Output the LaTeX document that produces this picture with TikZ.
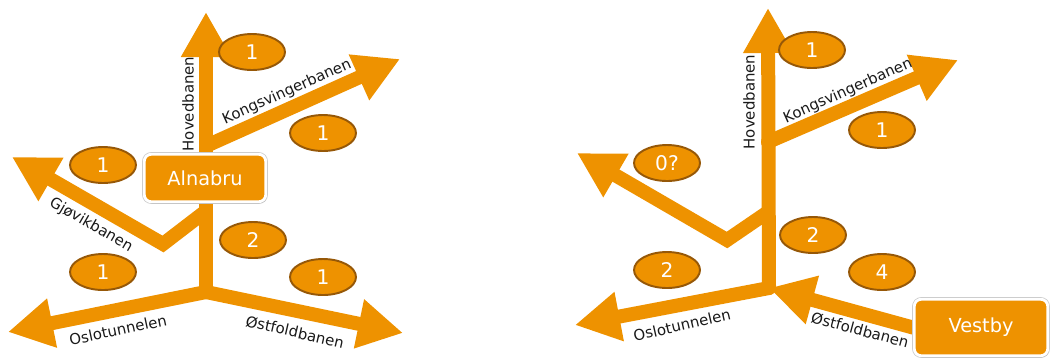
\documentclass[tikz,border=0pt]{standalone}
\usepackage{fontspec}
\setmainfont{DejaVu Sans}
\usepackage{tikz}
\usetikzlibrary{arrows.meta, shapes.geometric, shadows, backgrounds}
\tikzset{
    trackarrow/.style={draw=#1, line width=0.28cm, line cap=round, -{Triangle[length=0.9cm, width=0.94cm]}},
    countoval/.style={ellipse, draw=ovalbrown, fill=#1, line width=1.1pt, minimum width=1.32cm, minimum height=0.72cm, inner sep=0pt, text=white, font=\fontsize{11.5}{13}\selectfont},
    stationbox/.style={rectangle, draw=white, fill=#1, rounded corners=4pt, line width=1.6pt, text=white, font=\fontsize{11}{13}\selectfont, preaction={draw=gray!45, line width=2.4pt}, drop shadow={opacity=0.3, shadow xshift=0.6pt, shadow yshift=-0.9pt}},
    tracklabel/.style={font=\fontsize{8.5}{10}\selectfont, text=labelgray, inner sep=1pt}
}
\definecolor{trackorange}{RGB}{238,146,0}
\definecolor{ovalbrown}{RGB}{150,88,8}
\definecolor{labelgray}{RGB}{25,25,25}

\begin{document}
\begin{tikzpicture}[x=0.02cm, y=-0.02cm]
\useasboundingbox (0,0) rectangle (1051,360);

% Alnabru
\node[stationbox=trackorange, minimum width=2.43cm, minimum height=0.95cm] (alnabru) at (205,178) {Alnabru};
\coordinate (a-top) at (206,12);
\coordinate (a-jct) at (206,292);
\coordinate (a-kon) at (206,146);
\coordinate (a-kontip) at (400,59);
\coordinate (a-gjo) at (206,211);
\coordinate (a-bend) at (163,244);
\coordinate (a-gjotip) at (12,157);
\coordinate (a-osltip) at (8,332);
\coordinate (a-osttip) at (403,333);

\node[countoval=trackorange] (a-hovn) at (252,52) {1};
\node[countoval=trackorange] (a-konn) at (323,133) {1};
\node[countoval=trackorange] (a-gjon) at (103,165) {1};
\node[countoval=trackorange] (a-midn) at (253,240) {2};
\node[countoval=trackorange] (a-osln) at (103,272) {1};
\node[countoval=trackorange] (a-ostn) at (323,277) {1};

\node[tracklabel, rotate=90] (a-hovl) at (188,104) {Hovedbanen};
\node[tracklabel, rotate=24] (a-konl) at (287,92) {Kongsvingerbanen};
\node[tracklabel, rotate=-30] (a-gjol) at (91,225) {Gjøvikbanen};
\node[tracklabel, rotate=12] (a-osll) at (118,330) {Oslotunnelen};
\node[tracklabel, rotate=-13] (a-ostl) at (295,332) {Østfoldbanen};

% Vestby
\node[stationbox=trackorange, minimum width=2.67cm, minimum height=1.13cm] (vestby) at (981,327.5) {Vestby};
\coordinate (v-top) at (768,8);
\coordinate (v-jct) at (769,288);
\coordinate (v-kon) at (768,142);
\coordinate (v-kontip) at (958,60);
\coordinate (v-gjo) at (768,212);
\coordinate (v-bend) at (727,240);
\coordinate (v-gjotip) at (577,153);
\coordinate (v-osltip) at (575,325);

\node[countoval=trackorange] (v-hovn) at (812,50) {1};
\node[countoval=trackorange] (v-konn) at (882,130) {1};
\node[countoval=trackorange] (v-gjon) at (667,163) {0?};
\node[countoval=trackorange] (v-midn) at (813,235) {2};
\node[countoval=trackorange] (v-osln) at (667,270) {2};
\node[countoval=trackorange] (v-ostn) at (882,272) {4};

\node[tracklabel, rotate=90] (v-hovl) at (749,102) {Hovedbanen};
\node[tracklabel, rotate=24] (v-konl) at (848,91) {Kongsvingerbanen};
\node[tracklabel, rotate=13] (v-osll) at (682,325) {Oslotunnelen};
\node[tracklabel, rotate=-15] (v-ostl) at (860,330) {Østfoldbanen};

\begin{scope}[on background layer]
\draw[trackarrow=trackorange] (a-jct) -- (a-top);
\draw[trackarrow=trackorange] (a-kon) -- (a-kontip);
\draw[trackarrow=trackorange] (a-gjo) -- (a-bend) -- (a-gjotip);
\draw[trackarrow=trackorange] (a-jct) -- (a-osltip);
\draw[trackarrow=trackorange] (a-jct) -- (a-osttip);

\draw[trackarrow=trackorange] (v-jct) -- (v-top);
\draw[trackarrow=trackorange] (v-kon) -- (v-kontip);
\draw[trackarrow=trackorange] (v-gjo) -- (v-bend) -- (v-gjotip);
\draw[trackarrow=trackorange] (v-jct) -- (v-osltip);
\draw[trackarrow=trackorange] (vestby.west) -- (v-jct);
\end{scope}

\end{tikzpicture}
\end{document}
